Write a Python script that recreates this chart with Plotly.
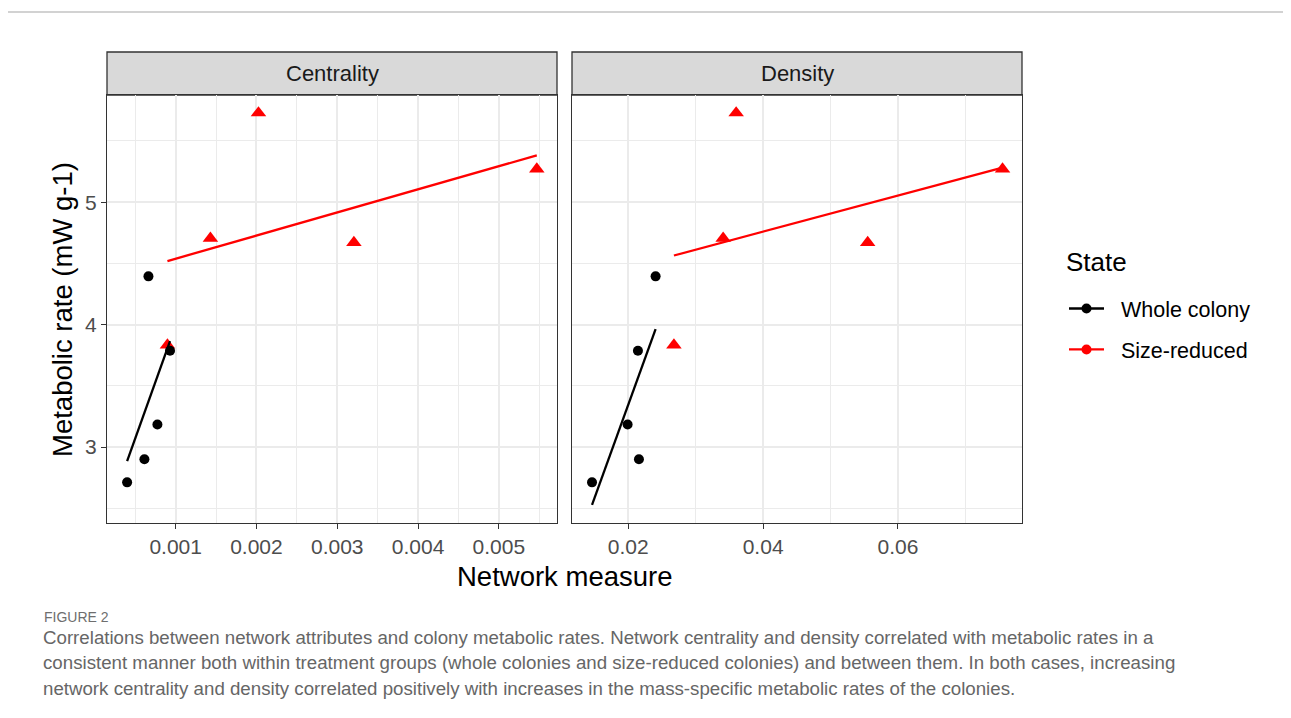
import numpy as np
import plotly.graph_objects as go

W, H = 1291, 718
OFF = 8  # page body margin

# ---------------- data ----------------
panels = ["Centrality", "Density"]
states = ["Whole colony", "Size-reduced"]

cent_whole_x = [0.000399, 0.000613, 0.000774, 0.000930, 0.000663]
cent_whole_y = [2.712, 2.900, 3.185, 3.786, 4.394]
cent_red_x = [0.000898, 0.001430, 0.002025, 0.003206, 0.005470]
cent_red_y = [3.833, 4.705, 5.729, 4.670, 5.270]

dens_whole_x = [0.01462, 0.02158, 0.01990, 0.02143, 0.02405]
dens_whole_y = [2.712, 2.900, 3.185, 3.786, 4.394]
dens_red_x = [0.02677, 0.03407, 0.03600, 0.05551, 0.07551]
dens_red_y = [3.833, 4.705, 5.729, 4.670, 5.270]

y_ticks = [3, 4, 5]
cent_ticks = [0.001, 0.002, 0.003, 0.004, 0.005]
dens_ticks = [0.02, 0.04, 0.06]

caption_label = "FIGURE 2"
caption_lines = [
    "Correlations between network attributes and colony metabolic rates. Network centrality and density correlated with metabolic rates in a",
    "consistent manner both within treatment groups (whole colonies and size-reduced colonies) and between them. In both cases, increasing",
    "network centrality and density correlated positively with increases in the mass-specific metabolic rates of the colonies.",
]

# ---------------- helpers ----------------
def px(x):
    return (x - OFF) / W

def py(y):
    return 1 - (y - OFF) / H

FONT = "Liberation Sans"
BLACK = "#000000"
RED = "#FF0000"

def fit_line(x, y):
    k, b = np.polyfit(x, y, 1)
    xs = np.array([min(x), max(x)])
    return xs, k * xs + b

fig = go.Figure()

panel_data = [
    ("x", "y", cent_whole_x, cent_whole_y, cent_red_x, cent_red_y),
    ("x2", "y2", dens_whole_x, dens_whole_y, dens_red_x, dens_red_y),
]

for xa, ya, wx, wy, rx, ry in panel_data:
    fig.add_trace(go.Scatter(x=rx, y=ry, mode="markers", xaxis=xa, yaxis=ya,
                             marker=dict(symbol="triangle-up", size=13.5, color=RED,
                                         line=dict(width=0)),
                             showlegend=False, hoverinfo="skip"))
    fig.add_trace(go.Scatter(x=wx, y=wy, mode="markers", xaxis=xa, yaxis=ya,
                             marker=dict(symbol="circle", size=10, color=BLACK,
                                         line=dict(width=0)),
                             showlegend=False, hoverinfo="skip"))
    lx, ly = fit_line(wx, wy)
    fig.add_trace(go.Scatter(x=lx, y=ly, mode="lines", xaxis=xa, yaxis=ya,
                             line=dict(color=BLACK, width=2.3),
                             showlegend=False, hoverinfo="skip"))
    lx, ly = fit_line(rx, ry)
    fig.add_trace(go.Scatter(x=lx, y=ly, mode="lines", xaxis=xa, yaxis=ya,
                             line=dict(color=RED, width=2.3),
                             showlegend=False, hoverinfo="skip"))

# legend entries
for name, col in zip(states, [BLACK, RED]):
    fig.add_trace(go.Scatter(x=[None], y=[None], mode="lines+markers",
                             name="\u00a0\u00a0" + name,
                             legendgroup=name,
                             line=dict(color=col, width=2.3),
                             marker=dict(symbol="circle", size=10, color=col)))

x1_dom = [px(107), px(557)]
x2_dom = [px(572), px(1022)]
y_dom = [py(523), py(95)]

grid = "#EBEBEB"
border = "#333333"
tickfont = dict(family=FONT, size=21, color="#4D4D4D")

common_x = dict(showline=True, mirror=True, linecolor=border, linewidth=1.3,
                ticks="outside", ticklen=5, tickwidth=1.3, tickcolor=border,
                showgrid=True, gridcolor=grid, gridwidth=1.7, zeroline=False,
                tickfont=tickfont)

fig.update_layout(
    width=W, height=H,
    margin=dict(l=0, r=0, t=0, b=0),
    paper_bgcolor="white", plot_bgcolor="white",
    font=dict(family=FONT),
    xaxis=dict(**common_x, anchor="y",
               domain=x1_dom, range=[0.00015, 0.00572],
               tickvals=cent_ticks, tickformat=".3f",
               minor=dict(dtick=0.0005, tick0=0, showgrid=True, gridcolor=grid, gridwidth=0.9, ticks="")),
    xaxis2=dict(**common_x, anchor="y2",
                domain=x2_dom, range=[0.01165, 0.0784],
                tickvals=dens_ticks, tickformat=".2f",
                minor=dict(dtick=0.01, tick0=0, showgrid=True, gridcolor=grid, gridwidth=0.9, ticks="")),
    yaxis=dict(domain=y_dom, range=[2.38, 5.875], anchor="x",
               showline=True, mirror=True, linecolor=border, linewidth=1.3,
               ticks="outside", ticklen=5, tickwidth=1.3, tickcolor=border,
               showgrid=True, gridcolor=grid, gridwidth=1.7, zeroline=False,
               tickvals=y_ticks, tickfont=tickfont,
               minor=dict(dtick=0.5, tick0=0, showgrid=True, gridcolor=grid, gridwidth=0.9, ticks="")),
    yaxis2=dict(domain=y_dom, range=[2.38, 5.875], anchor="x2", matches="y",
                showline=True, mirror=True, linecolor=border, linewidth=1.3,
                ticks="", showticklabels=False,
                showgrid=True, gridcolor=grid, gridwidth=1.7, zeroline=False,
                tickvals=y_ticks,
                minor=dict(dtick=0.5, tick0=0, showgrid=True, gridcolor=grid, gridwidth=0.9, ticks="")),
    legend=dict(x=px(1064), y=py(288), xanchor="left", yanchor="top",
                font=dict(family=FONT, size=21.5, color=BLACK),
                tracegroupgap=10, itemwidth=35, bgcolor="rgba(0,0,0,0)"),
)

shapes = []
annotations = []
# strips
for dom, label in zip([x1_dom, x2_dom], panels):
    shapes.append(dict(type="rect", xref="paper", yref="paper",
                       x0=dom[0], x1=dom[1], y0=py(95), y1=py(52),
                       fillcolor="#D9D9D9", line=dict(color=border, width=1.3), layer="below"))
    annotations.append(dict(text=label, xref="paper", yref="paper",
                            x=(dom[0] + dom[1]) / 2, y=py(74), showarrow=False,
                            xanchor="center", yanchor="middle",
                            font=dict(family=FONT, size=22, color="#1A1A1A")))

# legend title
annotations.append(dict(text="State", xref="paper", yref="paper",
                        x=px(1064), y=py(262), showarrow=False,
                        xanchor="left", yanchor="middle",
                        font=dict(family=FONT, size=26, color=BLACK)))

# axis titles
annotations.append(dict(text="Network measure", xref="paper", yref="paper",
                        x=px(564.5), y=py(576), showarrow=False,
                        xanchor="center", yanchor="middle",
                        font=dict(family=FONT, size=27.5, color=BLACK)))
annotations.append(dict(text="Metabolic rate (mW g-1)", xref="paper", yref="paper",
                        x=px(62), y=py(310), showarrow=False, textangle=-90,
                        xanchor="center", yanchor="middle",
                        font=dict(family=FONT, size=27.5, color=BLACK)))

# frame line
shapes.append(dict(type="line", xref="paper", yref="paper", x0=0, x1=1,
                   y0=py(12), y1=py(12), line=dict(color="#A6A6A6", width=1.2)))

# caption
annotations.append(dict(text=caption_label, xref="paper", yref="paper",
                        x=px(42), y=py(617), showarrow=False,
                        xanchor="left", yanchor="middle",
                        font=dict(family=FONT, size=14, color="#6E6E6E")))
for line, yy in zip(caption_lines, [637, 662, 688]):
    annotations.append(dict(text=line, xref="paper", yref="paper",
                            x=px(41), y=py(yy), showarrow=False,
                            xanchor="left", yanchor="middle",
                            font=dict(family=FONT, size=18.7, color="#666666")))

fig.update_layout(shapes=shapes, annotations=annotations)
fig.write_html("out.html")
